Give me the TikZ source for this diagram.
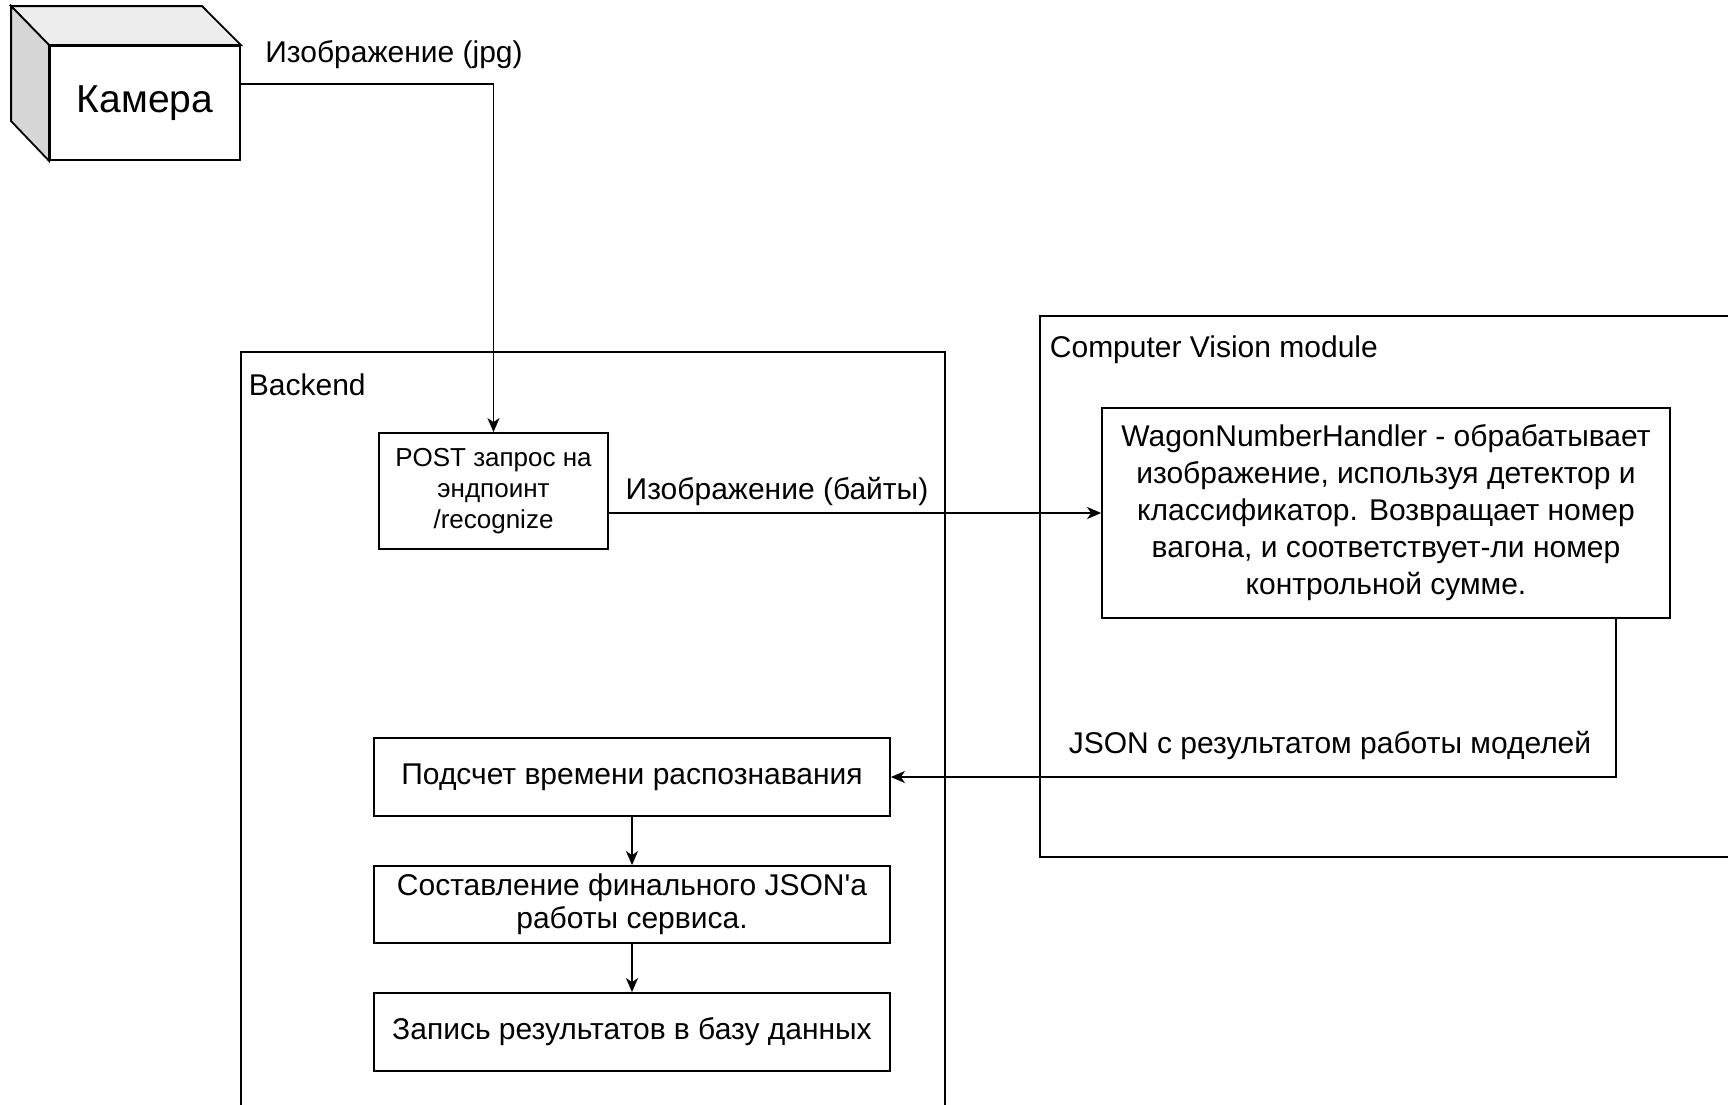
\documentclass[tikz,border=0pt]{standalone}
\usepackage{fontspec}
\setmainfont{Liberation Sans}
\usetikzlibrary{arrows.meta}

\begin{document}
\begin{tikzpicture}[x=0.5pt, y=-0.5pt, line width=0.9pt,
    >={Stealth[length=7pt, width=6pt, inset=2pt]},
    block/.style={draw, fill=white, inner sep=0pt, align=center,
        font=\fontsize{15}{18.5}\selectfont},
    lbl/.style={inner sep=0pt, font=\fontsize{15}{18}\selectfont}]
    \clip (0,0) rectangle (1728,1104);
    % containers
    \draw (241,352) rectangle (945,1160);
    \node[lbl, anchor=west] (backend) at (248,385) {Backend};
    \draw (1040,316) rectangle (1800,857);
    \node[lbl, anchor=west] (cvmodule) at (1049,350) {Computer Vision module};
    % camera
    \node[block, minimum width=95pt, minimum height=57pt,
        font=\fontsize{19.5}{22}\selectfont] (cam) at (145,103) {Камера};
    \filldraw[fill=black!7] (cam.north west) -- ++(-38,-39) -- ++(191,0) -- (cam.north east) -- cycle;
    \filldraw[fill=black!16] (cam.north west) -- ++(-38,-39) -- ++(0,115) -- (cam.south west) -- cycle;
    \coordinate (cube) at (126,84);
    % backend steps
    \node[block, minimum width=114.5pt, minimum height=58pt,
        font=\fontsize{13}{15.4}\selectfont] (post) at (493.5,491) {POST запрос на\\эндпоинт\\/recognize};
    \node[block, minimum width=258pt, minimum height=39pt] (timing) at (632,777) {Подсчет времени распознавания};
    \node[block, minimum width=258pt, minimum height=38.5pt,
        font=\fontsize{15}{16.7}\selectfont] (final) at (632,904.5) {Составление финального JSON\textquotesingle a\\работы сервиса.};
    \node[block, minimum width=258pt, minimum height=39pt] (store) at (632,1032) {Запись результатов в базу данных};
    % cv module
    \node[block, minimum width=284pt, minimum height=105pt] (wnh) at (1386,513)
        {WagonNumberHandler - обрабатывает\\изображение, используя детектор и\\классификатор. Возвращает номер\\вагона, и соответствует-ли номер\\контрольной сумме.};
    % connectors
    \draw[->] (cube -| cam.east) -| (post.north);
    \node[lbl] (jpg) at (394,55) {Изображение (jpg)};
    \draw[->] (post.east |- wnh.west) -- (wnh.west);
    \node[lbl] (bytes) at (777,491) {Изображение (байты)};
    \draw[->] ([xshift=115pt]wnh.south) |- (timing.east);
    \node[lbl] (json) at (1330,745) {JSON с результатом работы моделей};
    \draw[->] (timing) -- (final);
    \draw[->] (final) -- (store);
\end{tikzpicture}
\end{document}
